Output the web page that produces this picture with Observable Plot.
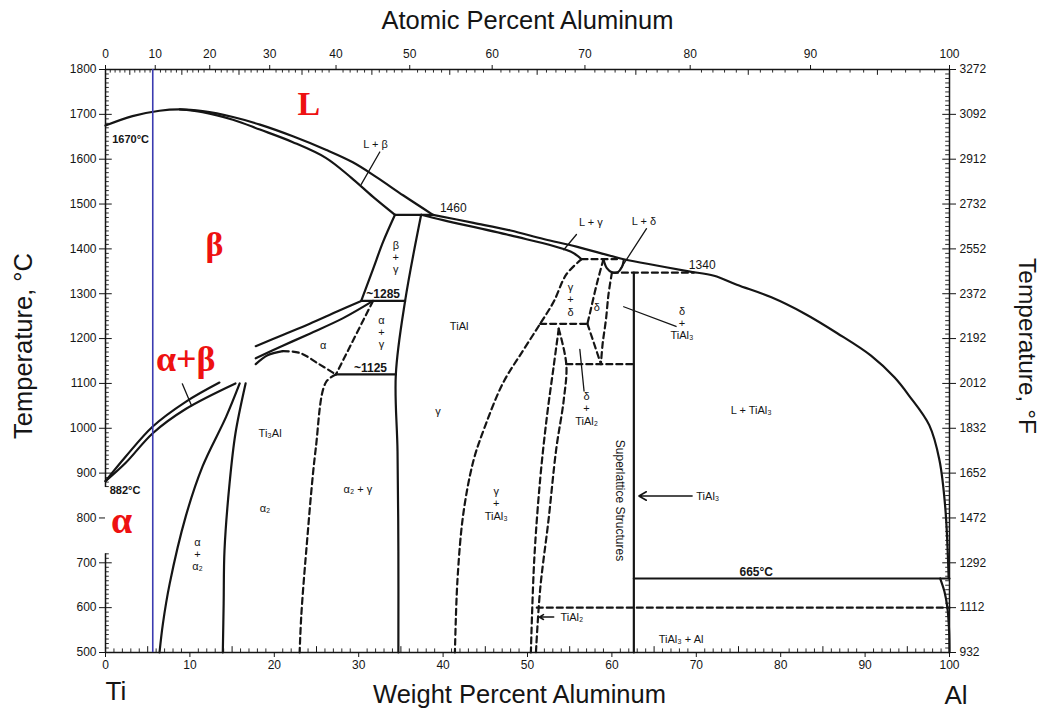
<!DOCTYPE html>
<html><head><meta charset="utf-8">
<script src="https://cdn.jsdelivr.net/npm/d3@7"></script>
<script src="https://cdn.jsdelivr.net/npm/@observablehq/plot@0.6"></script>
<style>body{margin:0;background:#fff}</style>
</head><body><div id="chart"></div>
<script>
// ---------- axes / tick values ----------
const yMajor = d3.range(500, 1801, 100);
const fahrenheitLabels = ["932","1112","1292","1472","1652","1832","2012","2192","2372","2552","2732","2912","3092","3272"];
const yMinor = d3.range(510, 1800, 10).filter(t => t % 100);
const leftAxisSpans = [[500, 720], [868, 1800]];
const wtMajor = d3.range(0, 101, 10);
const wtMid = d3.range(5, 100, 10);
const wtMinor = d3.range(1, 100).filter(v => v % 5);
const atMajor = d3.range(0, 101, 10);
const atMid = d3.range(5, 100, 10);
const atMinor = d3.range(1, 100).filter(v => v % 5);
const massAl = 26.98, massTi = 47.867;
const atToWt = a => 100 * a * massAl / (a * massAl + (100 - a) * massTi);
const wtToAt = w => 100 * (w / massAl) / (w / massAl + (100 - w) / massTi);
const ti6Al = [5.6];

// ---------- phase boundaries (wt% Al, °C) ----------
const liquidusTi   = [[0,1675],[3.2,1696],[6.4,1708],[8.8,1711],[11.5,1707],[15.1,1694],[18.3,1677],[22.2,1651],[26.1,1621],[29.3,1593],[32.1,1560],[35.3,1519],[38.8,1476]];
const solidusBeta  = [[8.8,1711],[11.5,1705],[15.1,1688],[18.3,1666],[22.2,1638],[26.1,1603],[29.1,1559],[31.7,1516],[34.3,1476]];
const liquidusAl   = [[38.8,1476],[43.6,1458],[48.0,1441],[51.9,1422],[55.8,1405],[61.4,1377],[65.3,1363],[69.1,1350],[72.1,1340],[74.8,1320],[78.9,1292],[82.8,1256],[86.7,1212],[90.7,1162],[93.5,1113],[95.2,1073],[97.6,1007],[98.8,930],[99.5,823],[99.9,665]];
const solidusGamma = [[37.4,1476],[40.0,1464],[48.0,1430],[55.1,1394],[56.4,1377]];
const peritectic1460 = [[34.3,1476],[38.8,1476]];
const betaGammaLeft  = [[34.3,1476],[32.9,1416],[31.7,1355],[30.3,1284]];
const gammaLeft      = [[37.4,1476],[35.5,1284],[34.4,1120],[34.6,949],[34.7,726],[34.7,500]];
const line1285 = [[30.3,1284],[35.5,1284]];
const line1125 = [[27.3,1120],[34.4,1120]];
const bandUpperLow  = [[0,882],[2.4,937],[5.6,1004],[9.5,1059],[13.5,1102]];
const bandLowerLow  = [[0,882],[2.4,923],[5.6,989],[9.5,1043],[15.4,1100]];
const bandUpperHigh = [[17.8,1183],[21.0,1208],[24.2,1233],[27.3,1259],[30.3,1284]];
const bandLowerHigh = [[17.8,1156],[21.0,1184],[24.2,1211],[28.1,1245],[31.7,1284]];
const alpha2Left  = [[6.4,500],[6.8,564],[7.6,653],[9.5,803],[11.5,915],[14.3,1026],[15.9,1100]];
const alpha2Right = [[13.9,500],[14.0,610],[14.1,728],[14.7,877],[15.4,989],[16.6,1100]];
const alpha2Dome  = [[17.8,1143],[19.2,1163],[21.0,1172]];
const tial3Line = [[62.6,1347],[62.6,500]];
const line665   = [[62.6,665],[100,665]];
const alSolvus  = [[98.9,665],[99.4,636],[99.75,600],[99.95,550],[100,500]];
const deltaCup  = [[59.0,1377],[59.4,1357],[60.0,1348],[60.7,1348],[61.2,1360],[61.4,1374]];

const alpha2DomeDashed = [[21.0,1172],[23.0,1168],[25.4,1142],[27.3,1120]];
const alphaGammaDashed = [[31.7,1284],[27.3,1120]];
const alpha2GammaDashed = [[27.3,1120],[26.1,1102],[24.9,953],[23.8,730],[23.2,583],[23.0,500]];
const gammaRightDashed = [[56.4,1377],[54.6,1343],[53.1,1282],[51.5,1233],[49.5,1174],[47.1,1101],[45.0,1006],[43.6,928],[42.4,810],[41.7,661],[41.4,500]];
const line1377 = [[56.4,1377],[60.6,1377]];
const line1233 = [[51.5,1233],[57.1,1233]];
const deltaLeft = [[59.0,1377],[58.2,1321],[57.5,1265],[57.1,1233]];
const deltaV = [[57.1,1233],[58.7,1143]];
const deltaRight = [[60.0,1347],[59.6,1299],[59.3,1243],[58.9,1188],[58.7,1143]];
const line1143 = [[54.6,1143],[62.6,1143]];
const line1340 = [[60.0,1347],[69.7,1347]];
const tial2Left  = [[53.7,1222],[53.1,1138],[52.3,1026],[51.5,886],[50.8,707],[50.4,500]];
const tial2Right = [[53.7,1222],[54.6,1142],[54.3,1064],[53.4,953],[52.5,797],[51.5,641],[51.0,500]];
const line600 = [[51.1,600],[100,600]];

const leaders = [
  [[32.5,1616],[30.3,1544]],
  [[55.8,1432],[54.3,1398]],
  [[64.1,1445],[61.0,1355]],
  [[67.6,1227],[61.4,1271]],
  [[56.7,1083],[56.2,1176]],
  [[9.1,1099],[10.2,1050]]
];
const arrows = [
  {x1:69.5, y1:849, x2:63.2, y2:849},
  {x1:53.1, y1:579, x2:51.4, y2:579}
];

// ---------- labels ----------
const regionLabels = [
  {x:32.0, y:1633, text:"L + β"},
  {x:57.5, y:1459, text:"L + γ"},
  {x:63.8, y:1463, text:"L + δ"},
  {x:34.4, y:1382, text:"β\n+\nγ"},
  {x:55.1, y:1287, text:"γ\n+\nδ"},
  {x:58.2, y:1270, text:"δ"},
  {x:68.3, y:1234, text:"δ\n+\nTiAl₃"},
  {x:57.0, y:1044, text:"δ\n+\nTiAl₂"},
  {x:32.7, y:1215, text:"α\n+\nγ"},
  {x:25.8, y:1185, text:"α"},
  {x:41.9, y:1228, text:"TiAl"},
  {x:39.4, y:1039, text:"γ"},
  {x:19.5, y:990, text:"Ti₃Al"},
  {x:18.9, y:823, text:"α₂"},
  {x:10.9, y:719, text:"α\n+\nα₂"},
  {x:29.9, y:865, text:"α₂ + γ"},
  {x:46.3, y:832, text:"γ\n+\nTiAl₃"},
  {x:76.5, y:1040, text:"L + TiAl₃"},
  {x:68.2, y:529, text:"TiAl₃ + Al"}
];
const tempLabels = [
  {x:41.2, y:1491, text:"1460"},
  {x:70.7, y:1364, text:"1340"}
];
const boldLabels = [
  {x:32.9, y:1298, text:"~1285"},
  {x:31.4, y:1135, text:"~1125"},
  {x:77.1, y:680, text:"665°C"}
];
const axisTempLabels = [
  {x:0.8, y:1645, text:"1670°C"},
  {x:0.5, y:861, text:"882°C"}
];
const arrowLabels = [
  {x:70.0, y:849, text:"TiAl₃"},
  {x:53.9, y:579, text:"TiAl₂"}
];
const verticalLabels = [{x:61.0, y:839, text:"Superlattice Structures"}];
const phaseLabels = [
  {x:24.1, y:1722, text:"L", size:34},
  {x:12.9, y:1408, text:"β", size:34},
  {x:9.5,  y:1153, text:"α+β", size:36},
  {x:1.9,  y:793,  text:"α", size:38}
];

// ---------- build ----------
const toRows = (groups) => groups.flatMap((arr, k) => arr.map(([x, y]) => ({x, y, k})));
const solidCurves = toRows([liquidusTi, solidusBeta, liquidusAl, solidusGamma, peritectic1460, betaGammaLeft, gammaLeft,
  line1285, line1125, bandUpperLow, bandLowerLow, bandUpperHigh, bandLowerHigh, alpha2Left, alpha2Right, alpha2Dome,
  tial3Line, line665, alSolvus, deltaCup]);
const dashedCurves = toRows([alpha2DomeDashed, alphaGammaDashed, alpha2GammaDashed, gammaRightDashed, line1377, line1233,
  deltaLeft, deltaV, deltaRight, line1143, line1340, tial2Left, tial2Right, line600]);
const leaderRows = toRows(leaders);
const ink = "#151515";
const inLeftAxis = t => t <= leftAxisSpans[0][1] || t >= leftAxisSpans[1][0];

const chart = Plot.plot({
  width: 1044, height: 710,
  marginLeft: 105, marginRight: 95, marginTop: 69, marginBottom: 58,
  x: {domain: [0, 100]},
  y: {domain: [500, 1800]},
  style: {fontFamily: "'Liberation Sans', Arial, 'DejaVu Sans', sans-serif", background: "#fff", color: ink},
  marks: [
    // frame lines
    Plot.ruleY([500, 1800], {stroke: ink, strokeWidth: 1.5}),
    Plot.ruleX([100], {stroke: ink, strokeWidth: 1.5}),
    Plot.ruleX(leftAxisSpans, {x: 0, y1: d => d[0], y2: d => d[1], stroke: ink, strokeWidth: 1.5}),
    // left axis
    Plot.axisY({anchor: "left", ticks: yMajor, tickSize: 6, tickPadding: 3, fontSize: 12, label: null, tickFormat: d => String(d)}),
    Plot.ruleY(yMajor.filter(inLeftAxis), {x1: 0, x2: 0.8, stroke: ink, strokeWidth: 1}),
    Plot.ruleY(yMinor.filter(inLeftAxis), {x1: 0, x2: 0.45, stroke: ink, strokeWidth: 0.9}),
    // right axis (°F)
    Plot.axisY({anchor: "right", ticks: yMajor, tickSize: 6, tickPadding: 4, fontSize: 12, label: null,
      tickFormat: d => fahrenheitLabels[yMajor.indexOf(d)]}),
    Plot.ruleY(yMajor, {x1: 99.2, x2: 100, stroke: ink, strokeWidth: 1}),
    Plot.ruleY(yMinor, {x1: 99.55, x2: 100, stroke: ink, strokeWidth: 0.9}),
    // bottom axis (wt%)
    Plot.axisX({anchor: "bottom", ticks: wtMajor, tickSize: 5, tickPadding: 3, fontSize: 12, label: null}),
    Plot.ruleX(wtMid, {y1: 500, y2: 513, stroke: ink, strokeWidth: 1}),
    Plot.ruleX(wtMinor, {y1: 500, y2: 508, stroke: ink, strokeWidth: 0.9}),
    // top axis (at%)
    Plot.axisX({anchor: "top", ticks: atMajor.map(atToWt), tickSize: 5, tickPadding: 7, fontSize: 12, label: null,
      tickFormat: d => String(Math.round(wtToAt(d)))}),
    Plot.ruleX(atMid.map(atToWt), {y1: 1787, y2: 1800, stroke: ink, strokeWidth: 1}),
    Plot.ruleX(atMinor.map(atToWt), {y1: 1792, y2: 1800, stroke: ink, strokeWidth: 0.9}),
    // axis titles
    Plot.text(["Atomic Percent Aluminum"], {frameAnchor: "top", dy: -49, lineAnchor: "middle", fontSize: 25.5, text: d => d}),
    Plot.text(["Weight Percent Aluminum"], {frameAnchor: "bottom", dy: 42, dx: -8, lineAnchor: "middle", fontSize: 25.5, text: d => d}),
    Plot.text(["Temperature, °C"], {frameAnchor: "left", dx: -82, dy: -15, rotate: -90, textAnchor: "middle", lineAnchor: "middle", fontSize: 25.5, text: d => d}),
    Plot.text(["Temperature, °F"], {frameAnchor: "right", dx: 77, dy: -15, rotate: 90, textAnchor: "middle", lineAnchor: "middle", fontSize: 24.5, text: d => d}),
    Plot.text(["Ti"], {x: 0, frameAnchor: "bottom", dy: 39, lineAnchor: "middle", textAnchor: "start", fontSize: 26, text: d => d}),
    Plot.text(["Al"], {x: 100, frameAnchor: "bottom", dy: 43, dx: -5, lineAnchor: "middle", textAnchor: "start", fontSize: 26, text: d => d}),
    // phase boundaries
    Plot.line(solidCurves, {x: "x", y: "y", z: "k", curve: "catmull-rom", stroke: ink, strokeWidth: 2.2}),
    Plot.line(dashedCurves, {x: "x", y: "y", z: "k", curve: "catmull-rom", stroke: ink, strokeWidth: 2.2, strokeDasharray: "6,4"}),
    Plot.line(leaderRows, {x: "x", y: "y", z: "k", stroke: ink, strokeWidth: 1.3}),
    Plot.arrow(arrows, {x1: "x1", y1: "y1", x2: "x2", y2: "y2", stroke: ink, strokeWidth: 1.6, headLength: 8}),
    // labels
    Plot.text(regionLabels, {x: "x", y: "y", text: "text", fontSize: 11, lineHeight: 1.1, fill: ink}),
    Plot.text(tempLabels, {x: "x", y: "y", text: "text", fontSize: 12, fill: ink}),
    Plot.text(boldLabels, {x: "x", y: "y", text: "text", fontSize: 12, fontWeight: "bold", fill: ink}),
    Plot.text(axisTempLabels, {x: "x", y: "y", text: "text", fontSize: 11, fontWeight: "bold", textAnchor: "start", fill: ink}),
    Plot.text(arrowLabels, {x: "x", y: "y", text: "text", fontSize: 11, textAnchor: "start", fill: ink}),
    Plot.text(verticalLabels, {x: "x", y: "y", text: "text", fontSize: 12, rotate: 90, fill: ink}),
    Plot.text(phaseLabels, {x: "x", y: "y", text: "text", fontSize: d => d.size, fontFamily: "'Liberation Serif', 'DejaVu Serif', serif", fontWeight: "bold", fill: "#ee1111"}),
    // Ti-6Al reference line
    Plot.ruleX(ti6Al, {stroke: "#3b3bb0", strokeWidth: 1.6})
  ]
});
document.getElementById("chart").appendChild(chart);
</script></body></html>
